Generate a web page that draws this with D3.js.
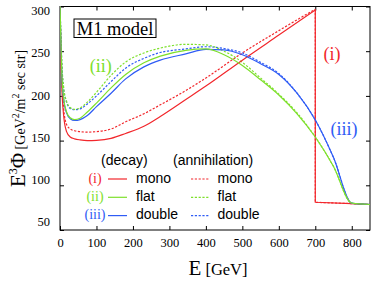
<!DOCTYPE html>
<html>
<head>
<meta charset="utf-8">
<script src="https://cdn.jsdelivr.net/npm/d3@7"></script>
<style>
  body { margin: 0; background: #fff; }
  svg { display: block; }
</style>
</head>
<body>
<div id="chart"></div>
<script>
// Energy grid (GeV) for the flat / double spectra
const energy = [0, 2, 5, 10, 18, 28, 40, 55, 75, 100, 140, 180, 230, 275, 345, 400, 450, 500, 550, 600, 650, 700, 750, 800, 850];
const flatDecay = [305, 268, 225, 198, 182, 175.5, 173.5, 175, 182, 192, 209, 224, 237, 244.5, 251, 252.5, 246, 234, 218, 201, 180, 154, 121, 80, 78.5];
const flatAnn = [305, 275, 238, 210, 194, 187, 185, 186.5, 193, 204, 223, 238, 248, 253.5, 257.7, 257, 250, 237.5, 220, 202, 181, 154, 121, 80, 78.5];
const doubleDecay = [305, 265, 222, 196, 181, 174.5, 172.5, 173.5, 178, 188, 203, 219, 232.5, 240, 247, 252, 251.5, 246, 236, 224, 203, 173, 131, 80, 78.5];
const doubleAnn = [305, 273, 236, 208, 193, 186, 184.5, 185.5, 191, 200, 216, 231, 242, 248.5, 252.5, 255, 253, 248, 237.5, 225, 203, 173, 131, 80, 78.5];

// mono has a sharp edge at 700 GeV (two values there)
const energyMono = [0, 2, 5, 10, 18, 28, 40, 55, 75, 100, 140, 180, 230, 275, 345, 400, 500, 600, 700, 700, 800, 850];
const monoDecay = [305, 255, 210, 178, 160, 154, 152, 150.8, 150, 150.3, 152.5, 158, 166, 177, 196, 211, 240, 268, 296, 81, 79.5, 78.5];
const monoAnn = [305, 262, 220, 186, 168, 163, 161, 160, 159.5, 160, 163, 171, 180, 190, 206, 220, 248, 273, 297, 81, 79.5, 78.5];

const xTicks = [0, 100, 200, 300, 400, 500, 600, 700, 800];
const yTicks = [50, 100, 150, 200, 250, 300];

const legendNames = ["mono", "flat", "double"];
const legendNumerals = ["(i)", "(ii)", "(iii)"];
const colors = ["#f2272c", "#7ee02c", "#2f5cf5"];

// in-plot labels: [text, energy, value, colour index]
const labels = [["(i)", 746, 240, 0], ["(ii)", 112, 226.5, 1], ["(iii)", 779, 156, 2]];

const margin = { top: 6.5, right: 1, bottom: 52, left: 60 };
const width = 371 - margin.left - margin.right;
const height = 282 - margin.top - margin.bottom;

const x = d3.scaleLinear().domain([0, 850]).range([0, width]);
const y = d3.scaleLinear().domain([50, 300]).range([height, 0]);
// gnuplot-ish tick label placement (labels a bit tighter than the ticks)
const yLab = d3.scaleLinear().domain([50, 300]).range([height - 9, 4]);

const svg = d3.select("#chart")
  .append("svg")
    .attr("width", 371)
    .attr("height", 282);

const g = svg.append("g")
    .attr("transform", `translate(${margin.left},${margin.top})`);

svg.append("defs").append("clipPath")
    .attr("id", "clip")
  .append("rect")
    .attr("width", width)
    .attr("height", height);

const serif = "'Liberation Serif', 'Times New Roman', serif";
const sans = "'Liberation Sans', Arial, sans-serif";

// axes with inward ticks
const xAxis = g.append("g")
    .attr("transform", `translate(0,${height})`)
    .call(d3.axisBottom(x).tickValues(xTicks).tickSizeInner(-4).tickSizeOuter(0).tickPadding(8.5));
const yAxis = g.append("g")
    .call(d3.axisLeft(y).tickValues(yTicks).tickSizeInner(-4).tickSizeOuter(0).tickPadding(10));
g.append("g")
    .call(d3.axisTop(x).tickValues(xTicks).tickSizeInner(-4).tickSizeOuter(0).tickFormat(""));
g.append("g")
    .attr("transform", `translate(${width},0)`)
    .call(d3.axisRight(y).tickValues(yTicks).tickSizeInner(-4).tickSizeOuter(0).tickFormat(""));

g.selectAll(".domain").remove();
g.selectAll("g").attr("font-family", null);
g.selectAll(".tick line").attr("stroke", "#000");
g.selectAll(".tick text")
    .style("font-family", serif)
    .style("font-size", "12.5px")
    .attr("fill", "#000");
yAxis.selectAll(".tick text")
    .attr("y", d => yLab(d) - y(d))
    .attr("dy", "0.35em");

g.append("rect")
    .attr("width", width)
    .attr("height", height)
    .attr("fill", "none")
    .attr("stroke", "#000")
    .attr("stroke-width", 1);

// curves
const curve = d3.line()
    .x(d => x(d[0]))
    .y(d => y(d[1]))
    .curve(d3.curveMonotoneX);
const straight = d3.line()
    .x(d => x(d[0]))
    .y(d => y(d[1]));

const plot = g.append("g").attr("clip-path", "url(#clip)");

function drawSeries(xs, ys, color, dashed) {
  const pts = xs.map((e, i) => [e, ys[i]]);
  const edge = xs.indexOf(700);
  const hasEdge = xs.lastIndexOf(700) !== edge;
  const smooth = hasEdge ? pts.slice(0, edge + 1) : pts;
  plot.append("path")
      .datum(smooth)
      .attr("fill", "none")
      .attr("stroke", color)
      .attr("stroke-width", 1.2)
      .attr("stroke-dasharray", dashed ? "2.2,1.6" : null)
      .attr("d", curve);
  if (hasEdge) {
    plot.append("path")
        .datum(pts.slice(edge))
        .attr("fill", "none")
        .attr("stroke", color)
        .attr("stroke-width", 1.2)
        .attr("stroke-dasharray", dashed ? "2.2,1.6" : null)
        .attr("d", straight);
  }
}

drawSeries(energyMono, monoAnn, colors[0], true);
drawSeries(energy, doubleAnn, colors[2], true);
drawSeries(energy, flatAnn, colors[1], true);
drawSeries(energyMono, monoDecay, colors[0], false);
drawSeries(energy, doubleDecay, colors[2], false);
drawSeries(energy, flatDecay, colors[1], false);

// M1 model box
g.append("rect")
    .attr("x", 14)
    .attr("y", 12.5)
    .attr("width", 82)
    .attr("height", 18.5)
    .attr("fill", "#fff")
    .attr("stroke", "#000")
    .attr("stroke-width", 1);
g.append("text")
    .attr("x", 55)
    .attr("y", 28)
    .attr("text-anchor", "middle")
    .style("font-family", serif)
    .style("font-size", "18.5px")
    .text("M1 model");

// in-plot labels
g.selectAll(".lab")
  .data(labels)
  .join("text")
    .attr("class", "lab")
    .attr("x", d => x(d[1]))
    .attr("y", d => y(d[2]))
    .attr("text-anchor", "middle")
    .attr("fill", d => colors[d[3]])
    .style("font-family", serif)
    .style("font-size", "18px")
    .text(d => d[0]);

// legend
const legend = svg.append("g");
legend.append("text")
    .attr("x", 101).attr("y", 165)
    .style("font-family", sans).style("font-size", "14px")
    .text("(decay)");
legend.append("text")
    .attr("x", 173).attr("y", 165)
    .style("font-family", sans).style("font-size", "14px")
    .text("(annihilation)");

const rows = legend.selectAll(".row")
  .data(legendNames)
  .join("g")
    .attr("class", "row")
    .attr("transform", (d, i) => `translate(0,${182.5 + i * 18.3})`);
rows.append("text")
    .attr("x", 95)
    .attr("text-anchor", "middle")
    .attr("fill", (d, i) => colors[i])
    .style("font-family", serif).style("font-size", "14px")
    .text((d, i) => legendNumerals[i]);
rows.append("line")
    .attr("x1", 108).attr("x2", 127)
    .attr("y1", -3.5).attr("y2", -3.5)
    .attr("stroke", (d, i) => colors[i])
    .attr("stroke-width", 1.2);
rows.append("text")
    .attr("x", 136)
    .style("font-family", sans).style("font-size", "14px")
    .text(d => d);
rows.append("line")
    .attr("x1", 191).attr("x2", 210)
    .attr("y1", -3.5).attr("y2", -3.5)
    .attr("stroke", (d, i) => colors[i])
    .attr("stroke-width", 1.2)
    .attr("stroke-dasharray", "2.2,1.6");
rows.append("text")
    .attr("x", 217.5)
    .style("font-family", sans).style("font-size", "14px")
    .text(d => d);

// X label
const xl = svg.append("text")
    .attr("x", margin.left + width / 2 + 3)
    .attr("y", 275)
    .attr("text-anchor", "middle")
    .style("font-family", serif);
xl.append("tspan").style("font-size", "21px").text("E");
xl.append("tspan").style("font-size", "16.5px").text(" [GeV]");

// Y label
const yl = svg.append("text")
    .attr("transform", "translate(25,118.5) rotate(-90)")
    .attr("text-anchor", "middle")
    .style("font-family", serif);
yl.append("tspan").style("font-size", "21px").text("E");
yl.append("tspan").style("font-size", "12px").attr("dy", -8).text("3");
yl.append("tspan").style("font-size", "21px").attr("dy", 8).text("Φ");
yl.append("tspan").style("font-size", "14px").text(" [GeV");
yl.append("tspan").style("font-size", "10px").attr("dy", -6).text("2");
yl.append("tspan").style("font-size", "14px").attr("dy", 6).text("/m");
yl.append("tspan").style("font-size", "10px").attr("dy", -6).text("2");
yl.append("tspan").style("font-size", "14px").attr("dy", 6).text(" sec str]");
</script>
</body>
</html>
